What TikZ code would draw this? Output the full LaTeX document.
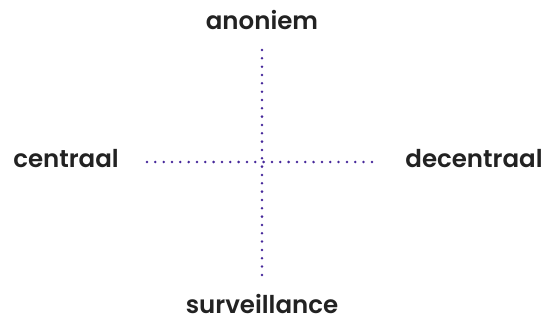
\documentclass[tikz,border=0pt]{standalone}
\usepackage{fontspec}
\setmainfont{Poppins SemiBold}
\definecolor{txt}{HTML}{222222}
\definecolor{dotc}{HTML}{46289A}
\begin{document}
\begin{tikzpicture}[x=1pt,y=-1pt,
  lbl/.style={anchor=base,text=txt,font=\fontsize{24.5}{28}\selectfont,inner sep=0pt},
  dotline/.style={draw=dotc,line width=2.8pt,line cap=round,dash pattern=on 0pt off 8.33pt}]
\useasboundingbox (0,0) rectangle (557,322);
\node[lbl] (top) at (262,29) {anoniem};
\node[lbl] (left) at (66,167) {centraal};
\node[lbl] (right) at (474,167) {decentraal};
\node[lbl] (bot) at (262,313) {surveillance};
\coordinate (vt) at (262,50);
\coordinate (vb) at (262,275);
\coordinate (hl) at (147,162);
\coordinate (hr) at (375,162);
\draw[dotline] (vt) -- (vb);
\draw[dotline] (hl) -- (hr);
\end{tikzpicture}
\end{document}
